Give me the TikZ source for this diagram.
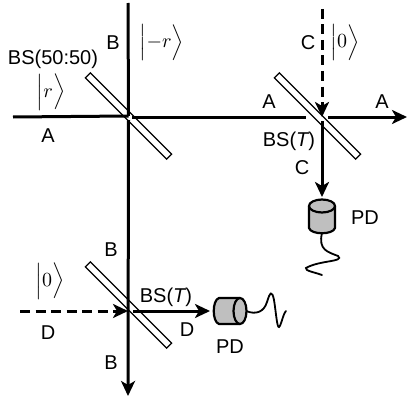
\documentclass[tikz,border=0pt]{standalone}
\usepackage{fontspec}
\usepackage{graphicx}
\newfontfamily\lab{Liberation Sans}
\usetikzlibrary{arrows.meta}
\newcommand{\bigket}[1]{\scalebox{2}{$\Big|#1\Big\rangle$}}
\tikzset{
  beam/.style={line width=3pt,-{Stealth[length=15pt,width=14pt,inset=4pt]}},
  dashbeam/.style={line width=3pt,dash pattern=on 10pt off 5.5pt,-{Stealth[length=15pt,width=14pt,inset=4pt]}},
  splitter/.style={draw=black,fill=white,line width=1.3pt,minimum width=115pt,minimum height=7pt,inner sep=0pt,rotate=-45},
  txt/.style={font=\lab\fontsize{20}{24}\selectfont,inner sep=0pt},
  ket/.style={inner sep=0pt},
  det/.style={draw=black,line width=2.2pt,fill=black!25,line join=round},
  wire/.style={line width=1.8pt,line cap=round}
}
\begin{document}
\begin{tikzpicture}[x=1pt,y=-1pt]
\useasboundingbox (0,0) rectangle (415,404);
% free ends
\coordinate (aL) at (13,117);
\coordinate (aR) at (407,117);
\coordinate (bT) at (128,3);
\coordinate (bB) at (128,396);
\coordinate (cT) at (322,9);
\coordinate (cM) at (322,117);
\coordinate (cB) at (322,197);
\coordinate (dL) at (20,311);
\coordinate (dM) at (128,311);
\coordinate (dR) at (210,311);
% splitters
\node[splitter] (bs1) at (128.5,116) {};
\node[splitter] (bs2) at (317.5,116) {};
\node[splitter] (bs3) at (128.5,305) {};
% beams that stop in front of or leave the splitters
\draw[line width=3pt] (aL) -- (bs1.center);
\draw[line width=3pt] (bT) -- (bs1.center);
\draw[beam] (bs1.center) ++(0,4) -- (bB);
\draw[line width=3pt] (132,117) -- (306,117);
\draw[beam] (328,117) -- (aR);
\draw[dashbeam] (cT) -- (cM);
\draw[beam] (322,121) -- (cB);
\draw[dashbeam] (dL) -- (dM);
\draw[beam] (133,311) -- (dR);
% detector C
\draw[wire] (322,233) .. controls (318,250) and (328,252) .. (338,256)
  .. controls (345,262) and (320,260) .. (306,268)
  .. controls (305,271) and (314,272) .. (322,275);
\draw[det] (309,206) -- (309,228) .. controls (311,235) and (333,235) .. (335,228) -- (335,206);
\draw[det] (322,206) ellipse [x radius=13,y radius=6.5];
% detector D
\draw[wire] (246,311) .. controls (256,315) and (264,312) .. (267,302)
  .. controls (270,292) and (272,290) .. (274,300)
  .. controls (276,312) and (277,328) .. (279,327)
  .. controls (281,326) and (283,314) .. (286,311);
\draw[det] (240,298) -- (219,298) .. controls (212,300) and (212,322) .. (219,324) -- (240,324);
\draw[det] (240,311) ellipse [x radius=6.5,y radius=13];
% labels
\node[txt] (l1) at (53,59) {BS(50:50)};
\node[txt] (l2) at (113,43) {B};
\node[txt] (l3) at (48,136) {A};
\node[txt] (l4) at (269,102) {A};
\node[txt] (l5) at (382,102) {A};
\node[txt] (l6) at (308,43) {C};
\node[txt] (l7) at (302,168) {C};
\node[txt] (l8) at (289,141) {BS({\itshape T})};
\node[txt] (l9) at (111,250) {B};
\node[txt] (l10) at (111,363) {B};
\node[txt] (l11) at (48,333) {D};
\node[txt] (l12) at (187,330) {D};
\node[txt] (l13) at (166,297) {BS({\itshape T})};
\node[txt] (l14) at (365,218) {PD};
\node[txt] (l15) at (230,347) {PD};
\node[ket] (k1) at (51,92) {\bigket{r}};
\node[ket] (k2) at (162,43) {\bigket{{-}r}};
\node[ket] (k3) at (345,43) {\bigket{0}};
\node[ket] (k4) at (50,281) {\bigket{0}};
\end{tikzpicture}
\end{document}
